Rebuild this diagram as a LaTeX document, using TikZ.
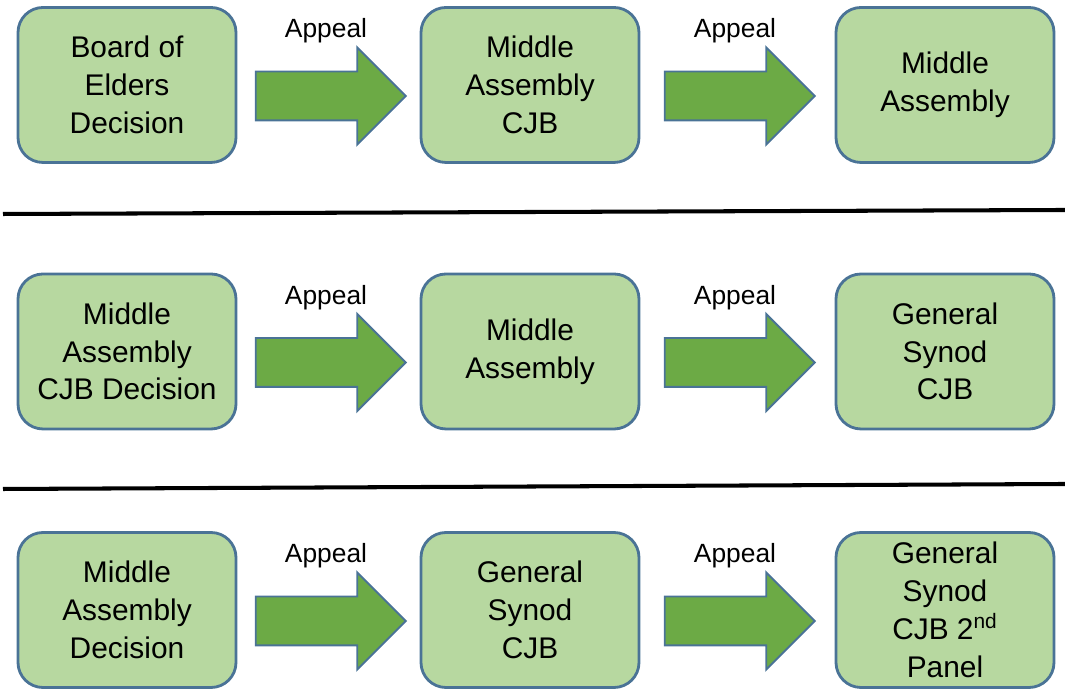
\documentclass[tikz,border=0pt]{standalone}
\usepackage{fontspec}
\setmainfont{Liberation Sans}
\usetikzlibrary{positioning,shapes.arrows,calc}
\definecolor{boxfill}{HTML}{B7D8A0}
\definecolor{boxline}{HTML}{4A7396}
\definecolor{arrowfill}{HTML}{6CAA45}

\begin{document}
\begin{tikzpicture}[on grid,
   court/.style={draw=boxline,line width=1.6pt,fill=boxfill,rounded corners=0.5cm,
      minimum width=4.36cm,minimum height=3.1cm,align=center,
      font=\fontsize{17}{21.5}\selectfont},
   appeal/.style={single arrow,draw=boxline,line width=1.1pt,fill=arrowfill,
      minimum height=3.0cm,single arrow head extend=0.48cm,
      single arrow tip angle=90,inner xsep=0pt,inner ysep=0.47cm},
   apl/.style={font=\fontsize{15}{18}\selectfont}]
   \useasboundingbox (0,0) rectangle (21.3,13.84);
   % first row
   \node[court] (b11) at (2.54,12.14) {Board of\\Elders\\Decision};
   \node[court] (b12) [right=8.06cm of b11] {Middle\\Assembly\\CJB};
   \node[court] (b13) [right=8.3cm of b12] {Middle\\Assembly};
   % second row
   \node[court] (b21) [below=5.33cm of b11] {Middle\\Assembly\\CJB Decision};
   \node[court] (b22) [below=5.33cm of b12] {Middle\\Assembly};
   \node[court] (b23) [below=5.33cm of b13] {General\\Synod\\CJB};
   % third row
   \node[court] (b31) [below=5.17cm of b21] {Middle\\Assembly\\Decision};
   \node[court] (b32) [below=5.17cm of b22] {General\\Synod\\CJB};
   \node[court] (b33) [below=5.17cm of b23] {General\\Synod\\CJB 2\textsuperscript{nd}\\Panel};
   % appeal arrows
   \foreach \r in {1,2,3}{
      \node[appeal] (a\r1) at ($(b\r1.east)!0.5!(b\r2.west)+(-0.2,-0.22)$) {};
      \node[appeal] (a\r2) at ($(b\r2.east)!0.5!(b\r3.west)+(-0.2,-0.22)$) {};
      \node[apl] (l\r1) at ($(a\r1)+(0.15,1.3)$) {Appeal};
      \node[apl] (l\r2) at ($(a\r2)+(0.15,1.3)$) {Appeal};
   }
   % separators
   \draw[line width=2.3pt] (0.06,9.56) -- (21.3,9.64);
   \draw[line width=2.3pt] (0.06,4.06) -- (21.3,4.16);
\end{tikzpicture}
\end{document}
